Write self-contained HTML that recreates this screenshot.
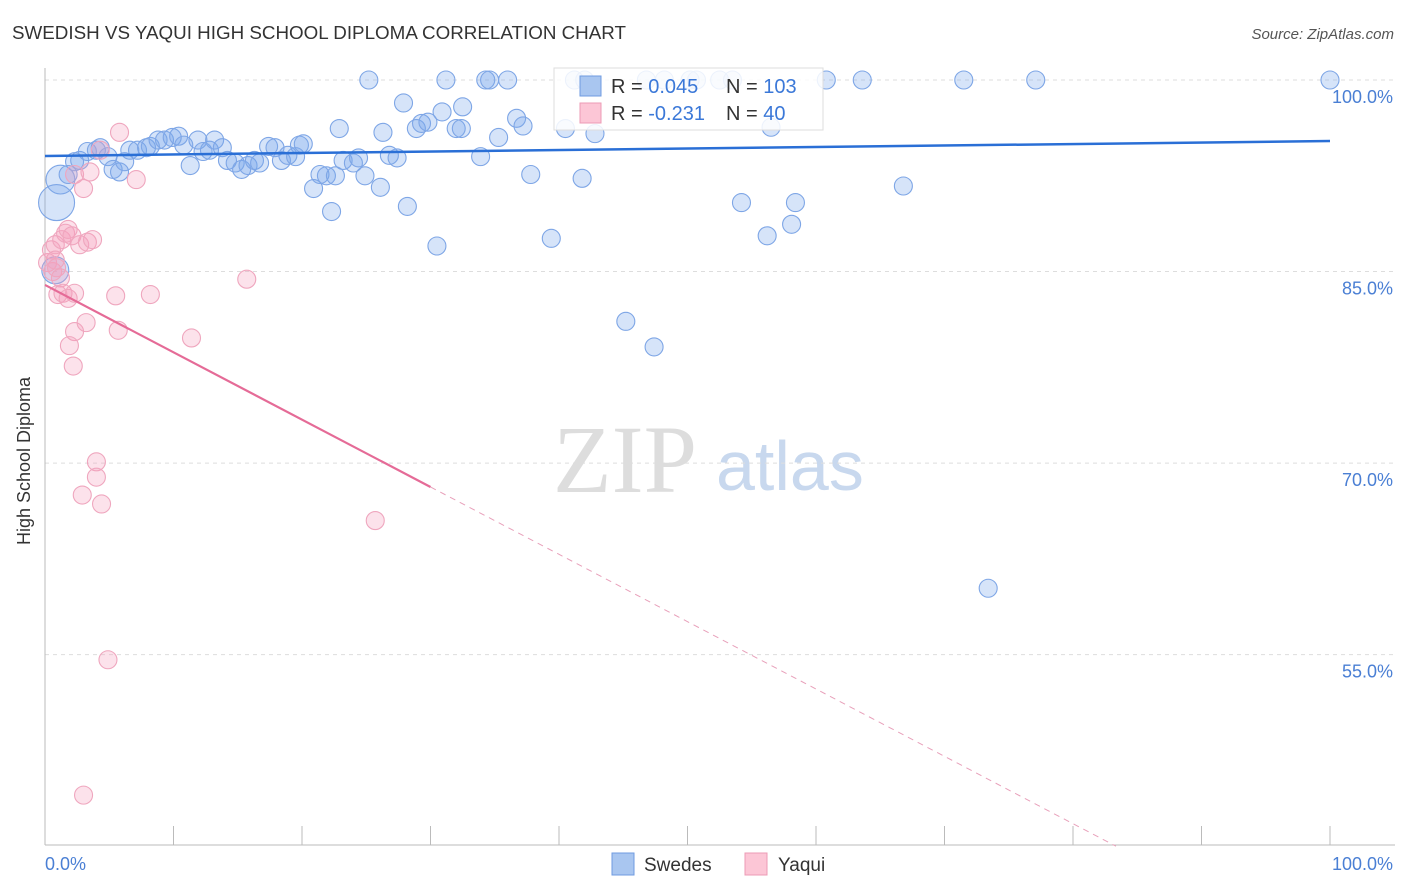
<!DOCTYPE html>
<html><head><meta charset="utf-8"><style>
body{margin:0;background:#fff;font-family:"Liberation Sans",sans-serif}
svg{display:block}
</style></head><body>
<svg id="chart" width="1406" height="892" viewBox="0 0 1406 892">
<text x="12" y="39" font-size="18" fill="#333" textLength="614" lengthAdjust="spacingAndGlyphs">SWEDISH VS YAQUI HIGH SCHOOL DIPLOMA CORRELATION CHART</text>
<text x="1394" y="39" font-size="15" fill="#555" font-style="italic" text-anchor="end">Source: ZipAtlas.com</text>
<g>
<text x="553" y="492" font-family="Liberation Serif,serif" font-size="96" fill="#ddd">ZIP</text>
<text x="716" y="490" font-size="70" fill="#c8d8ee">atlas</text>
</g>
<g id="grid"></g>
<line x1="45" y1="68" x2="45" y2="845" stroke="#bbb"/>
<line x1="45" y1="845" x2="1395" y2="845" stroke="#bbb"/>
<g id="xticks"></g>
<text x="24" y="455" font-size="18" fill="#333" transform="rotate(-90 30 455)" text-anchor="middle">High School Diploma</text>
<text x="45" y="870" font-size="18" fill="#4a7fd4">0.0%</text>
<text x="1393" y="870" font-size="18" fill="#4a7fd4" text-anchor="end">100.0%</text>
<g id="pts"></g>
<g id="lines"></g>
<g>
<rect x="554" y="68" width="269" height="62" fill="#fff" fill-opacity="0.85" stroke="#ddd"/>
<rect x="580" y="76" width="21" height="20" fill="#a9c6f0" stroke="#6f9be0"/>
<rect x="580" y="103" width="21" height="20" fill="#fcc6d6" stroke="#ec9bb5"/>
<text x="611" y="93" font-size="20" fill="#333">R = <tspan fill="#3b78d8">0.045</tspan></text>
<text x="726" y="93" font-size="20" fill="#333">N = <tspan fill="#3b78d8">103</tspan></text>
<text x="611" y="120" font-size="20" fill="#333">R = <tspan fill="#3b78d8">-0.231</tspan></text>
<text x="726" y="120" font-size="20" fill="#333">N = <tspan fill="#3b78d8"> 40</tspan></text>
</g>
<g>
<rect x="612" y="853" width="22" height="22" fill="#a9c6f0" stroke="#6f9be0"/>
<text x="644" y="871" font-size="19" fill="#333">Swedes</text>
<rect x="745" y="853" width="22" height="22" fill="#fcc6d6" stroke="#ec9bb5"/>
<text x="778" y="871" font-size="19" fill="#333">Yaqui</text>
</g>
</svg>
<script>
const yTicks=[100,85,70,55];
const xTickVals=[0,10,20,30,40,50,60,70,80,90,100];
const blueX=[1.2,0.9,0.8,1.8,2.3,2.7,3.3,4.0,4.3,4.9,5.3,5.8,6.2,6.6,7.2,7.9,8.2,8.8,9.3,9.9,10.4,10.8,11.3,11.9,12.3,12.8,13.2,13.8,14.2,14.8,15.3,15.8,16.3,16.7,17.4,17.9,18.4,18.9,19.5,19.8,20.1,20.9,21.4,21.9,22.3,22.6,22.9,23.2,24.0,24.4,24.9,25.2,26.1,26.3,26.8,27.4,27.9,28.2,28.9,29.3,29.8,30.5,30.9,31.2,32.0,32.4,32.5,33.9,34.3,34.6,35.3,36.0,36.7,37.2,37.8,39.4,40.5,41.2,41.8,42.0,42.8,45.2,46.8,47.4,48.2,50.2,50.7,52.5,53.5,54.2,56.2,56.5,58.1,58.4,60.8,63.6,66.8,71.5,73.4,77.1,100];
const blueY=[92.2,90.4,85.1,92.6,93.6,93.7,94.4,94.5,94.7,94.0,93.0,92.8,93.6,94.5,94.5,94.7,94.8,95.3,95.3,95.5,95.6,94.9,93.3,95.3,94.4,94.5,95.3,94.7,93.7,93.5,93.0,93.3,93.7,93.5,94.8,94.7,93.7,94.1,94.0,94.9,95.0,91.5,92.6,92.5,89.7,92.5,96.2,93.7,93.5,93.9,92.5,100,91.6,95.9,94.1,93.9,98.2,90.1,96.2,96.6,96.7,87.0,97.5,100,96.2,96.2,97.9,94.0,100,100,95.5,100,97.0,96.4,92.6,87.6,96.2,100,92.3,100,95.8,81.1,100,79.1,100,100,100,100,100,90.4,87.8,96.3,88.7,90.4,100,100,91.7,100,60.2,100,100];
const blueSize=[1.6,2,1.5];
const pinkX=[0.2,0.5,0.8,0.6,0.9,1.2,1.3,1.6,1.8,2.1,2.3,2.7,3.0,3.3,3.5,3.7,1.0,1.4,1.8,2.3,2.3,1.9,2.2,3.2,5.5,5.7,5.8,7.1,8.2,11.4,15.7,4.0,4.0,2.9,4.4,25.7,4.9,3.0,4.3,0.8];
const pinkY=[85.7,86.7,87.1,85.0,85.3,84.5,87.5,88.0,88.3,87.8,92.6,87.1,91.5,87.3,92.8,87.5,83.2,83.3,82.9,83.3,80.3,79.2,77.6,81.0,83.1,80.4,95.9,92.2,83.2,79.8,84.4,70.1,68.9,67.5,66.8,65.5,54.6,44.0,94.5,85.9];
const blueTrend=[94.05,95.22];
const pinkTrend=[83.95,68.13];
const pinkSolidEnd=30;
const NS='http://www.w3.org/2000/svg';
const X=v=>45+v*12.85, Y=v=>80+(100-v)*12.77;
function mk(t,a,p){const e=document.createElementNS(NS,t);for(const k in a)e.setAttribute(k,a[k]);p.appendChild(e);return e;}
const grid=document.getElementById('grid');
yTicks.forEach((t,i)=>{
 const l=mk('line',{x1:45,x2:1395,y1:Y(t),y2:Y(t),stroke:'#ddd','stroke-dasharray':'4,4'},grid);
 
 
 const tx=mk('text',{x:1393,y:Y(t)+23,'font-size':18,fill:'#4a7fd4','text-anchor':'end'},grid);
 tx.textContent=t.toFixed(1)+'%';
 
 
});
const xt=document.getElementById('xticks');
xTickVals.forEach(t=>{
 const l=mk('line',{x1:X(t),x2:X(t),y1:826,y2:845,stroke:'#bbb'},xt);
 
 
});
const pts=document.getElementById('pts');
blueX.forEach((x,i)=>{
 const r=9*(blueSize[i]||1);
 const c=mk('circle',{cx:X(x),cy:Y(blueY[i]),r:r,fill:'rgba(120,165,235,0.3)',stroke:'#7ea6e6','stroke-width':1.1},pts);
 
 
});
pinkX.forEach((x,i)=>{
 const c=mk('circle',{cx:X(x),cy:Y(pinkY[i]),r:9,fill:'rgba(245,160,188,0.3)',stroke:'#efa6be','stroke-width':1.1},pts);
 
 
});
const ln=document.getElementById('lines');
const bl=mk('line',{x1:X(0),y1:Y(blueTrend[0]),x2:X(100),y2:Y(blueTrend[1]),stroke:'#2a6fd6','stroke-width':2.5},ln);


const slope=(pinkTrend[1]-pinkTrend[0])/pinkSolidEnd;
const pl=mk('line',{x1:X(0),y1:Y(pinkTrend[0]),x2:X(pinkSolidEnd),y2:Y(pinkTrend[1]),stroke:'#e56b97','stroke-width':2.2},ln);


const endX=(40-pinkTrend[0])/slope;
const pd=mk('line',{x1:X(pinkSolidEnd),y1:Y(pinkTrend[1]),x2:X(endX),y2:Y(40),stroke:'#e8a0ba','stroke-width':1,'stroke-dasharray':'6,5'},ln);


</script>
</body></html>
